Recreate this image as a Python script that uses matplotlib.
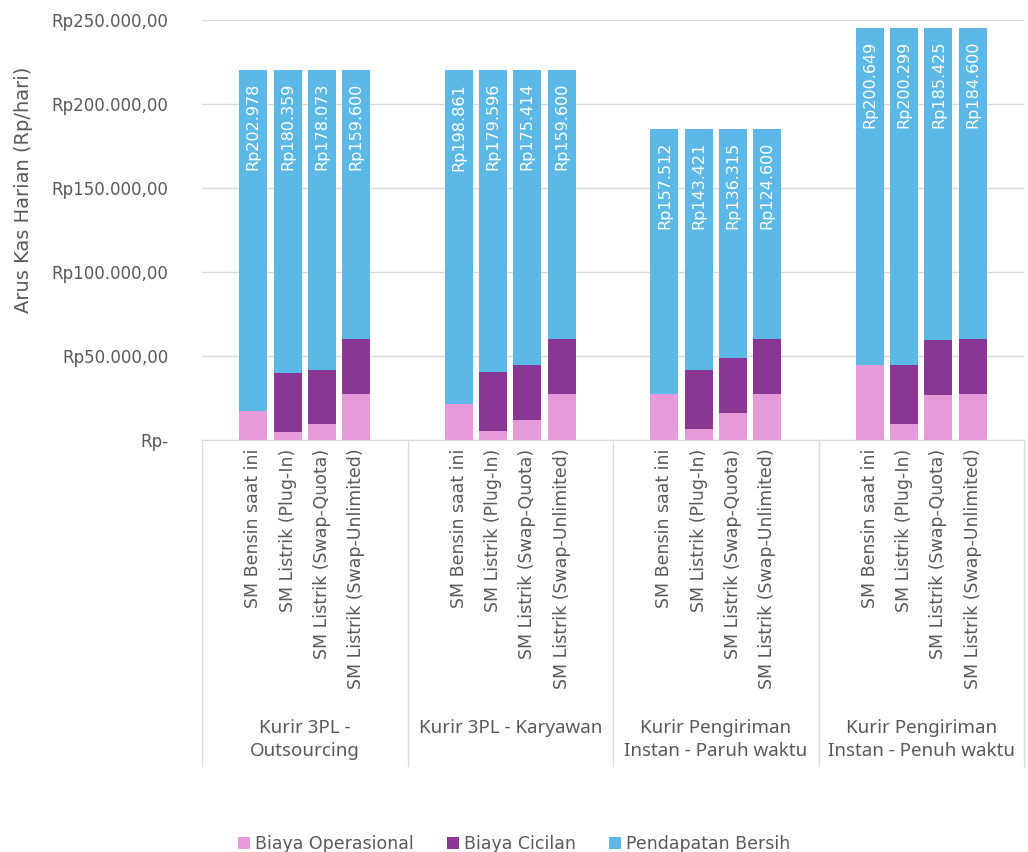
import numpy as np
import matplotlib
matplotlib.use("Agg")
from matplotlib import pyplot as plt
from matplotlib.transforms import blended_transform_factory

# data
GROUPS = ['Kurir 3PL -\nOutsourcing', 'Kurir 3PL - Karyawan',
          'Kurir Pengiriman\nInstan - Paruh waktu', 'Kurir Pengiriman\nInstan - Penuh waktu']
VEHICLES = ['SM Bensin saat ini', 'SM Listrik (Plug-In)',
            'SM Listrik (Swap-Quota)', 'SM Listrik (Swap-Unlimited)']
biaya_operasional = [17022, 5000, 9500, 27500,
                     21139, 5200, 12000, 27500,
                     27488, 6500, 16000, 27500,
                     44351, 9500, 26800, 27500]
biaya_cicilan = [0, 34641, 32427, 32900,
                 0, 35204, 32586, 32900,
                 0, 35079, 32685, 32900,
                 0, 35201, 32775, 32900]
pendapatan_bersih = [202978, 180359, 178073, 159600,
                     198861, 179596, 175414, 159600,
                     157512, 143421, 136315, 124600,
                     200649, 200299, 185425, 184600]
SERIES = ['Biaya Operasional', 'Biaya Cicilan', 'Pendapatan Bersih']
COLORS = ['#E69AD9', '#8A3793', '#5CB8E6']
Y_TICKS = [0, 50000, 100000, 150000, 200000, 250000]

TEXT = '#595959'
GRID = '#D9D9D9'
plt.rcParams['font.family'] = ['DejaVu Sans']

# 6 slots per group: blank, 4 bars, blank
slots = 6
x = np.array([g * slots + 1 + i for g in range(len(GROUPS)) for i in range(len(VEHICLES))])

fig = plt.figure(figsize=(10.28, 8.52), dpi=100)
ax = fig.add_axes([202 / 1028, 1 - 440 / 852, 822 / 1028, 420 / 852])

op = np.array(biaya_operasional)
ci = np.array(biaya_cicilan)
pb = np.array(pendapatan_bersih)
w = 0.82
ax.bar(x, op, w, color=COLORS[0], label=SERIES[0], zorder=2)
ax.bar(x, ci, w, bottom=op, color=COLORS[1], label=SERIES[1], zorder=2)
ax.bar(x, pb, w, bottom=op + ci, color=COLORS[2], label=SERIES[2], zorder=2)

# value labels inside top of the blue part
for xi, tot, v in zip(x, op + ci + pb, pb):
    ax.annotate('Rp' + f'{v:,.0f}'.replace(',', '.'), (xi, tot),
                xytext=(0, -9), textcoords='offset points',
                rotation=90, ha='center', va='top', color='white', fontsize=11.5, zorder=3)

ax.set_xlim(-0.5, slots * len(GROUPS) - 0.5)
ax.set_ylim(0, 250000)
ax.set_yticks(Y_TICKS)
ax.set_yticklabels(['Rp-' if t == 0 else 'Rp' + f'{t:,.0f}'.replace(',', '.') + ',00' for t in Y_TICKS],
                   color=TEXT, fontsize=12)
ax.tick_params(axis='y', length=0, pad=24)
ax.set_xticks([])
ax.grid(axis='y', color=GRID, linewidth=1, zorder=0)
for s in ['top', 'right', 'left']:
    ax.spines[s].set_visible(False)
ax.spines['bottom'].set_color(GRID)

# multi level category axis
trans = blended_transform_factory(ax.transData, ax.transAxes)
for xi, name in zip(x, VEHICLES * len(GROUPS)):
    ax.text(xi, -0.02, name, transform=trans, rotation=90, ha='center', va='top',
            color=TEXT, fontsize=12.5, clip_on=False)
for g, name in enumerate(GROUPS):
    ax.text(g * slots + 2.5, -0.665, name, transform=trans, ha='center', va='top',
            color=TEXT, fontsize=13.5, family=['Noto Sans', 'DejaVu Sans'],
            linespacing=1.3, clip_on=False)
for g in range(len(GROUPS) + 1):
    ax.plot([g * slots - 0.5] * 2, [0, -0.775], transform=trans, color=GRID,
            linewidth=1, clip_on=False)

fig.text(24 / 1028, 1 - 190 / 852, 'Arus Kas Harian (Rp/hari)', rotation=90,
         ha='center', va='center', color=TEXT, fontsize=14)

fig.legend(loc='lower center', bbox_to_anchor=(0.5, -0.02), ncol=3, frameon=False,
           handlelength=0.7, handleheight=0.7, handletextpad=0.3, columnspacing=1.9,
           fontsize=12.5, labelcolor=TEXT)

fig.savefig('out.png', dpi=100)
